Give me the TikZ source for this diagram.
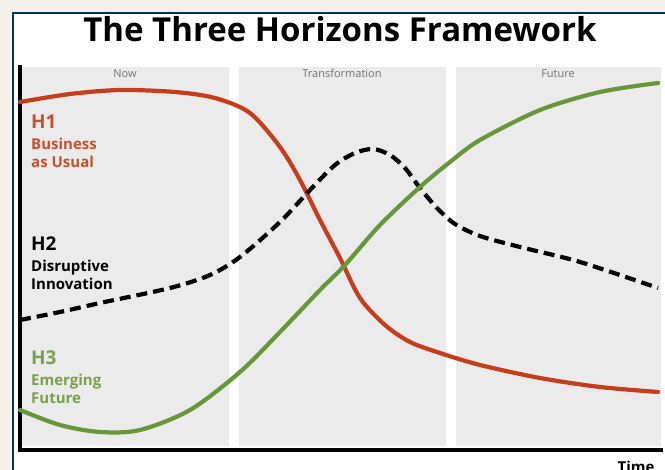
\documentclass[tikz,border=0pt]{standalone}
\usepackage{fontspec}
\setmainfont{Open Sans}
\usetikzlibrary{positioning}

\definecolor{paper}{HTML}{F3F0E7}
\definecolor{navy}{HTML}{0B2A6E}
\definecolor{panel}{HTML}{EBEBEB}
\definecolor{hred}{HTML}{C63D1C}
\definecolor{hredtext}{HTML}{C8502E}
\definecolor{hgreen}{HTML}{66983A}
\definecolor{hgreentext}{HTML}{78A14B}

\begin{document}
\begin{tikzpicture}[x=1pt,y=-1pt,
    era/.style={fill=panel},
    eralabel/.style={anchor=base,text=black!55,font=\fontsize{11}{13}\selectfont},
    htag/.style={anchor=base west,inner sep=0pt,font=\bfseries\fontsize{19}{22}\selectfont},
    hdesc/.style={inner sep=0pt,align=left,font=\bfseries\fontsize{15}{18}\selectfont},
    curve/.style={line width=4.2pt,line cap=round}]
   \clip (0,0) rectangle (665,470);
   \fill[paper] (0,0) rectangle (665,470);
   \fill[white] (13,13) rectangle (670,475);
   \draw[navy,line width=2.4pt] (13,475) -- (13,13) -- (670,13);

   \node[anchor=base,font=\bfseries\fontsize{33}{38}\selectfont] (title) at (340,42) {The Three Horizons Framework};

   % the three eras
   \fill[era] (20,67) rectangle (229,446);
   \fill[era] (239,67) rectangle (446,446);
   \fill[era] (456,67) rectangle (661,446);
   \node[eralabel] (now)   at (125,78) {Now};
   \node[eralabel] (trans) at (342,78) {Transformation};
   \node[eralabel] (fut)   at (558,78) {Future};

   % axes
   \draw[line width=4pt] (20,65) -- (20,450) -- (663,450);
   \node[anchor=north,inner sep=0pt,font=\bfseries\fontsize{15}{18}\selectfont] (time) at (636,461) {Time};

   % H1
   \draw[curve,hred] plot[smooth] coordinates {(20,102) (70,94) (120,90) (175,92) (215,98)
      (250,113) (280,147) (300,180) (320,220) (340,258) (360,298) (385,325) (410,342)
      (440,353) (480,365) (540,378) (600,387) (658,392)};
   % H2
   \draw[curve,line cap=butt,dash pattern=on 11pt off 6pt] plot[smooth] coordinates {(20,320) (60,312)
      (100,303) (170,288) (210,275) (240,257) (280,222) (310,190) (335,165) (355,153)
      (373,149) (390,155) (405,168) (420,188) (437,208) (455,224) (480,236) (520,247)
      (580,262) (658,288)};
   % H3
   \draw[curve,hgreen] plot[smooth] coordinates {(20,410) (60,425) (100,432) (140,430)
      (190,410) (240,372) (280,332) (320,290) (345,265) (380,225) (420,187) (450,162)
      (480,140) (540,110) (600,92) (658,83)};

   \node[htag,text=hredtext] (h_1) at (31,129) {H1};
   \node[hdesc,text=hredtext,below right=8.5pt and 0pt of h_1.south west] (d_1) {Business\\as Usual};
   \node[htag] (h_2) at (31,251) {H2};
   \node[hdesc,below right=8.5pt and 0pt of h_2.south west] (d_2) {Disruptive\\Innovation};
   \node[htag,text=hgreentext] (h_3) at (31,365) {H3};
   \node[hdesc,text=hgreentext,below right=8.5pt and 0pt of h_3.south west] (d_3) {Emerging\\Future};
\end{tikzpicture}
\end{document}
